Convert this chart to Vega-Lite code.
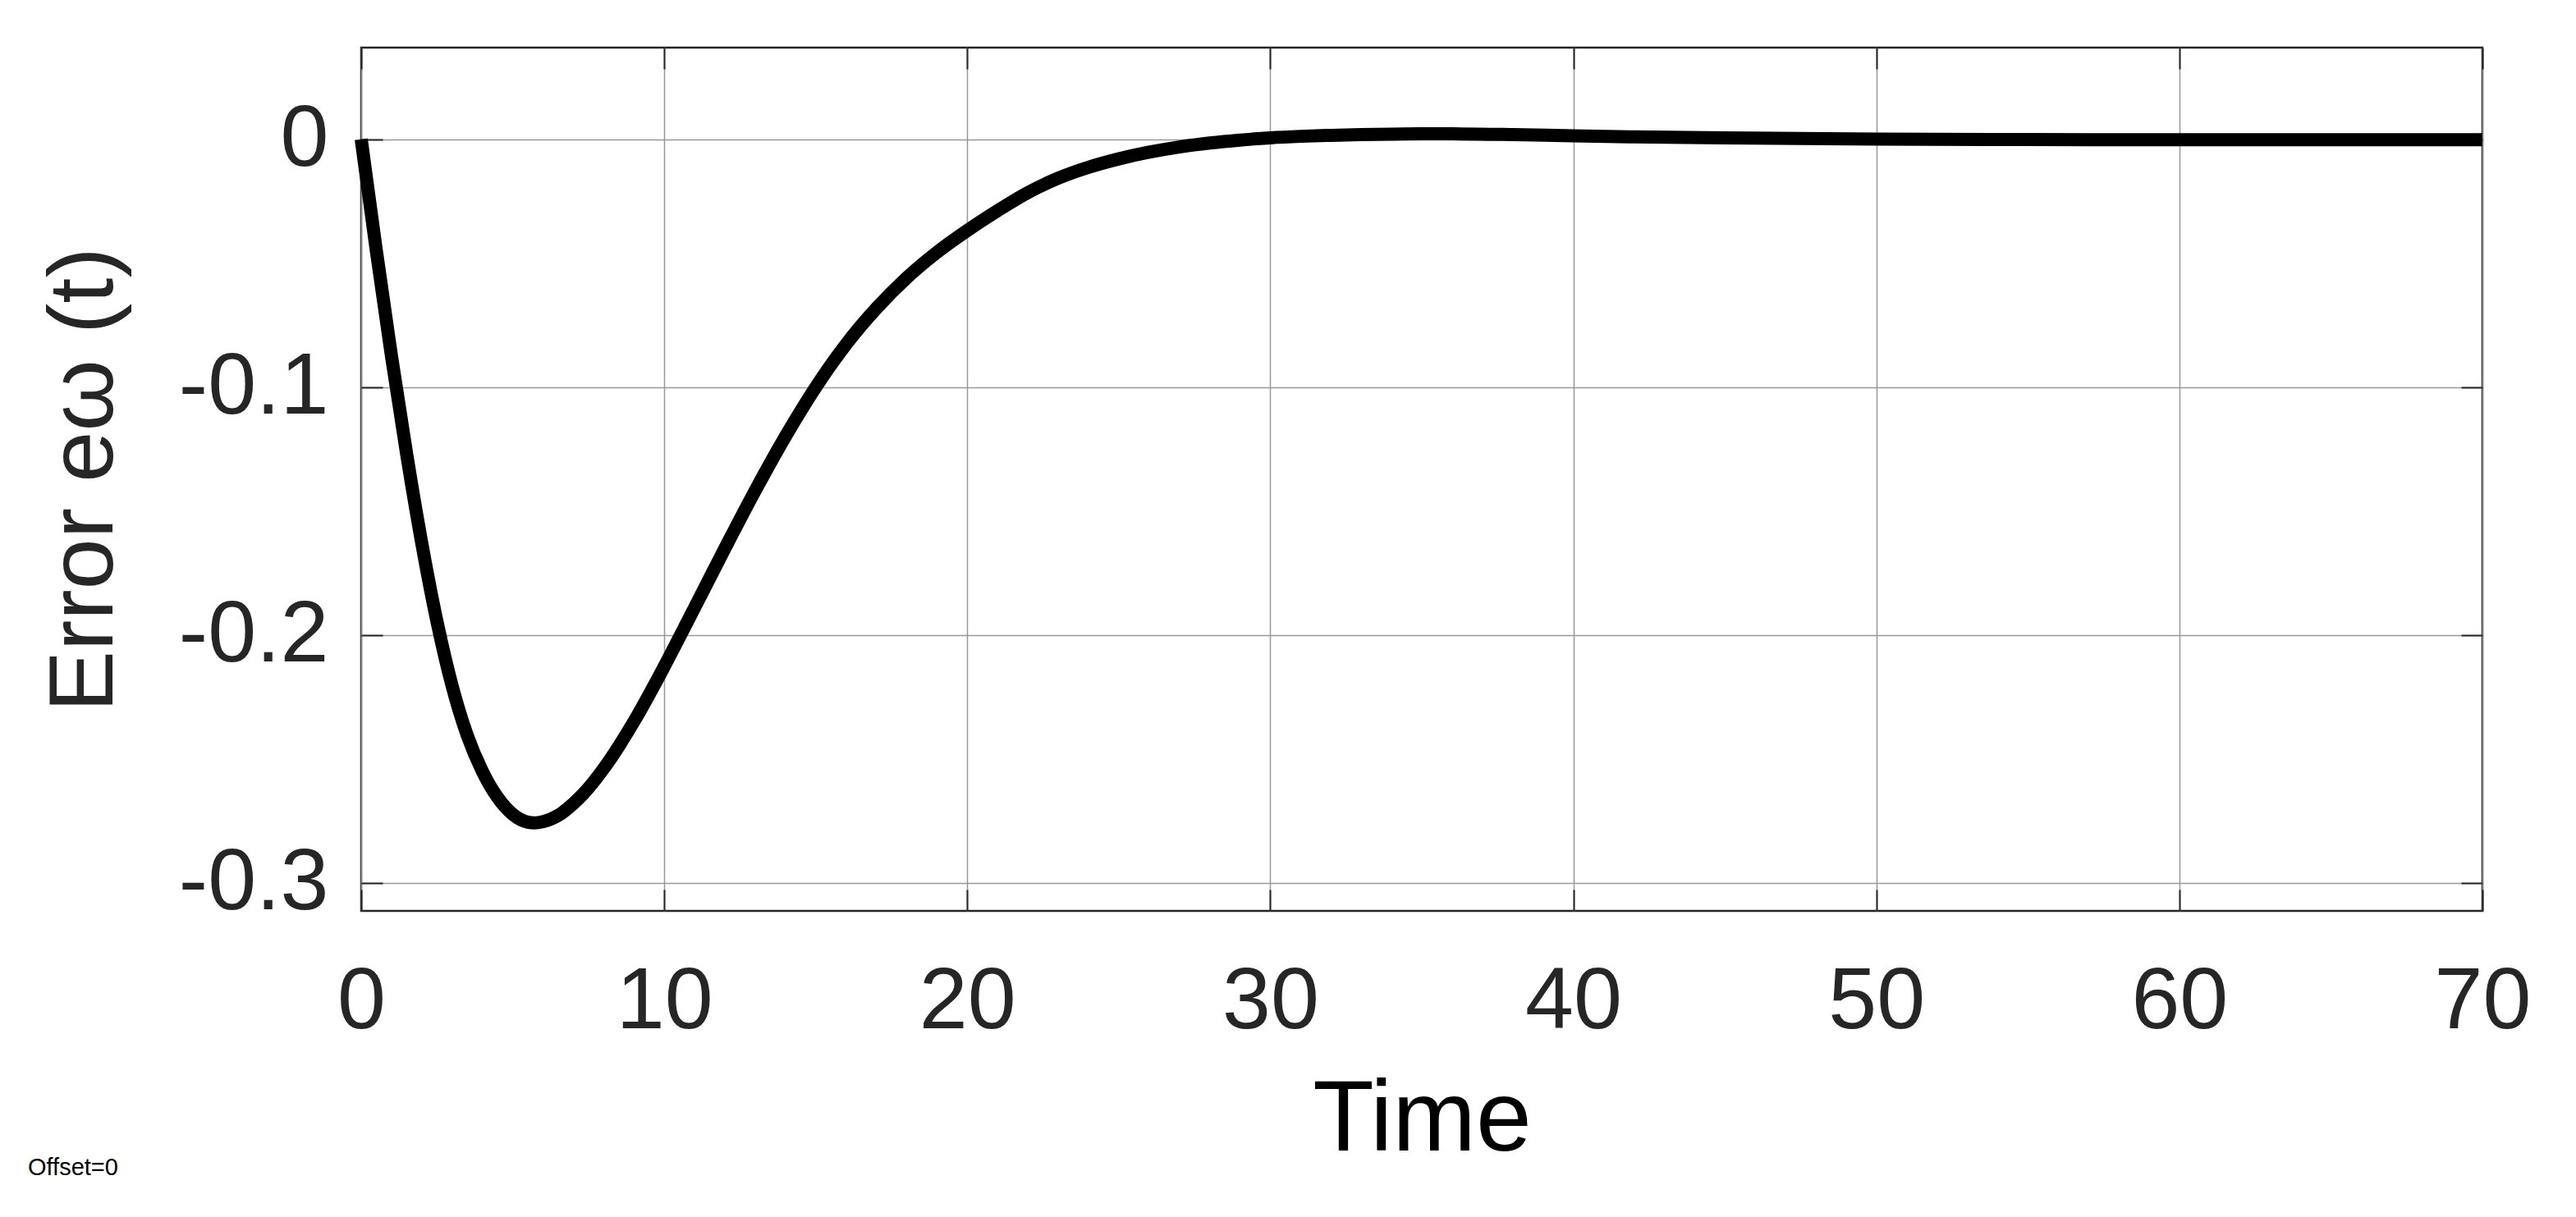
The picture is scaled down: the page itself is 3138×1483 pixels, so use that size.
{
  "$schema": "https://vega.github.io/schema/vega-lite/v6.json",
  "width": 2584,
  "height": 1052,
  "autosize": {"type": "none"},
  "padding": {"left": 440, "top": 58, "right": 114, "bottom": 373},
  "background": "white",
  "title": {"text": "Offset=0", "orient": "bottom", "anchor": "start", "frame": "bounds", "fontSize": 29, "font": "Liberation Sans", "fontWeight": "normal", "color": "#000000", "offset": -16, "dx": -12},
  "data": {"values": [
    {"t": 0, "e": 0},
    {"t": 0.5, "e": -0.045},
    {"t": 1, "e": -0.0875},
    {"t": 1.5, "e": -0.127},
    {"t": 2, "e": -0.163},
    {"t": 2.5, "e": -0.1945},
    {"t": 3, "e": -0.2205},
    {"t": 3.5, "e": -0.2405},
    {"t": 4, "e": -0.255},
    {"t": 4.5, "e": -0.2655},
    {"t": 5, "e": -0.2723},
    {"t": 5.5, "e": -0.2755},
    {"t": 5.72, "e": -0.2758},
    {"t": 6, "e": -0.2753},
    {"t": 6.5, "e": -0.2728},
    {"t": 7, "e": -0.268},
    {"t": 7.35, "e": -0.2638},
    {"t": 8, "e": -0.2539},
    {"t": 9, "e": -0.2349},
    {"t": 10, "e": -0.2127},
    {"t": 11, "e": -0.189},
    {"t": 12, "e": -0.1651},
    {"t": 13, "e": -0.1418},
    {"t": 14, "e": -0.1199},
    {"t": 15, "e": -0.1},
    {"t": 16, "e": -0.0827},
    {"t": 17, "e": -0.0682},
    {"t": 18, "e": -0.0559},
    {"t": 19, "e": -0.0456},
    {"t": 20, "e": -0.0368},
    {"t": 21, "e": -0.0288},
    {"t": 22, "e": -0.0215},
    {"t": 23, "e": -0.0157},
    {"t": 24, "e": -0.0113},
    {"t": 25, "e": -0.0079},
    {"t": 26, "e": -0.0052},
    {"t": 27, "e": -0.0031},
    {"t": 28, "e": -0.0015},
    {"t": 29, "e": -0.0003},
    {"t": 30, "e": 0.0006},
    {"t": 31, "e": 0.0012},
    {"t": 32, "e": 0.0016},
    {"t": 33, "e": 0.0019},
    {"t": 34, "e": 0.0021},
    {"t": 35, "e": 0.0022},
    {"t": 36, "e": 0.0022},
    {"t": 38, "e": 0.0019},
    {"t": 40, "e": 0.0014},
    {"t": 42, "e": 0.001},
    {"t": 45, "e": 0.0006},
    {"t": 50, "e": 0.0001},
    {"t": 55, "e": -0.0001},
    {"t": 60, "e": -0.0002},
    {"t": 65, "e": -0.0002},
    {"t": 70, "e": -0.0002}
  ]},
  "config": {
    "view": {"stroke": "#262626", "strokeWidth": 2.5},
    "axis": {
      "domain": false,
      "grid": true,
      "gridColor": "#999999",
      "gridWidth": 1.5,
      "gridOpacity": 1,
      "ticks": true,
      "tickColor": "#262626",
      "tickSize": -26,
      "tickWidth": 2,
      "labelFont": "Liberation Sans",
      "labelFontSize": 106,
      "labelColor": "#262626",
      "labelLimit": 0,
      "titleFont": "Liberation Sans",
      "titleFontWeight": "normal",
      "titleLimit": 0
    }
  },
  "resolve": {"axis": {"x": "independent", "y": "independent"}},
  "layer": [
    {
      "mark": {"type": "line", "color": "#000000", "strokeWidth": 16, "interpolate": "monotone", "clip": false},
      "encoding": {
        "x": {"field": "t", "type": "quantitative",
              "scale": {"domain": [0, 70], "nice": false, "zero": false},
              "axis": {"orient": "bottom", "values": [0, 10, 20, 30, 40, 50, 60, 70], "title": "Time", "titleFontSize": 122, "titleColor": "#000000", "labelPadding": 84, "titlePadding": 32, "labelFlush": false, "labelOverlap": false}},
        "y": {"field": "e", "type": "quantitative",
              "scale": {"domain": [-0.3113, 0.037], "nice": false, "zero": false},
              "axis": {"orient": "left", "values": [0, -0.1, -0.2, -0.3], "title": "Error eω (t)", "titleFontSize": 112, "titleColor": "#262626", "labelPadding": 66, "titlePadding": 80, "labelExpr": "datum.value == 0 ? '0' : '-' + format(-datum.value, '.1f')", "labelOverlap": false}}
      }
    },
    {
      "mark": {"type": "line", "strokeOpacity": 0},
      "encoding": {
        "x": {"field": "t", "type": "quantitative",
              "axis": {"orient": "top", "values": [0, 10, 20, 30, 40, 50, 60, 70], "grid": false, "labels": false, "title": null}},
        "y": {"field": "e", "type": "quantitative",
              "axis": {"orient": "right", "values": [0, -0.1, -0.2, -0.3], "grid": false, "labels": false, "title": null}}
      }
    }
  ]
}
